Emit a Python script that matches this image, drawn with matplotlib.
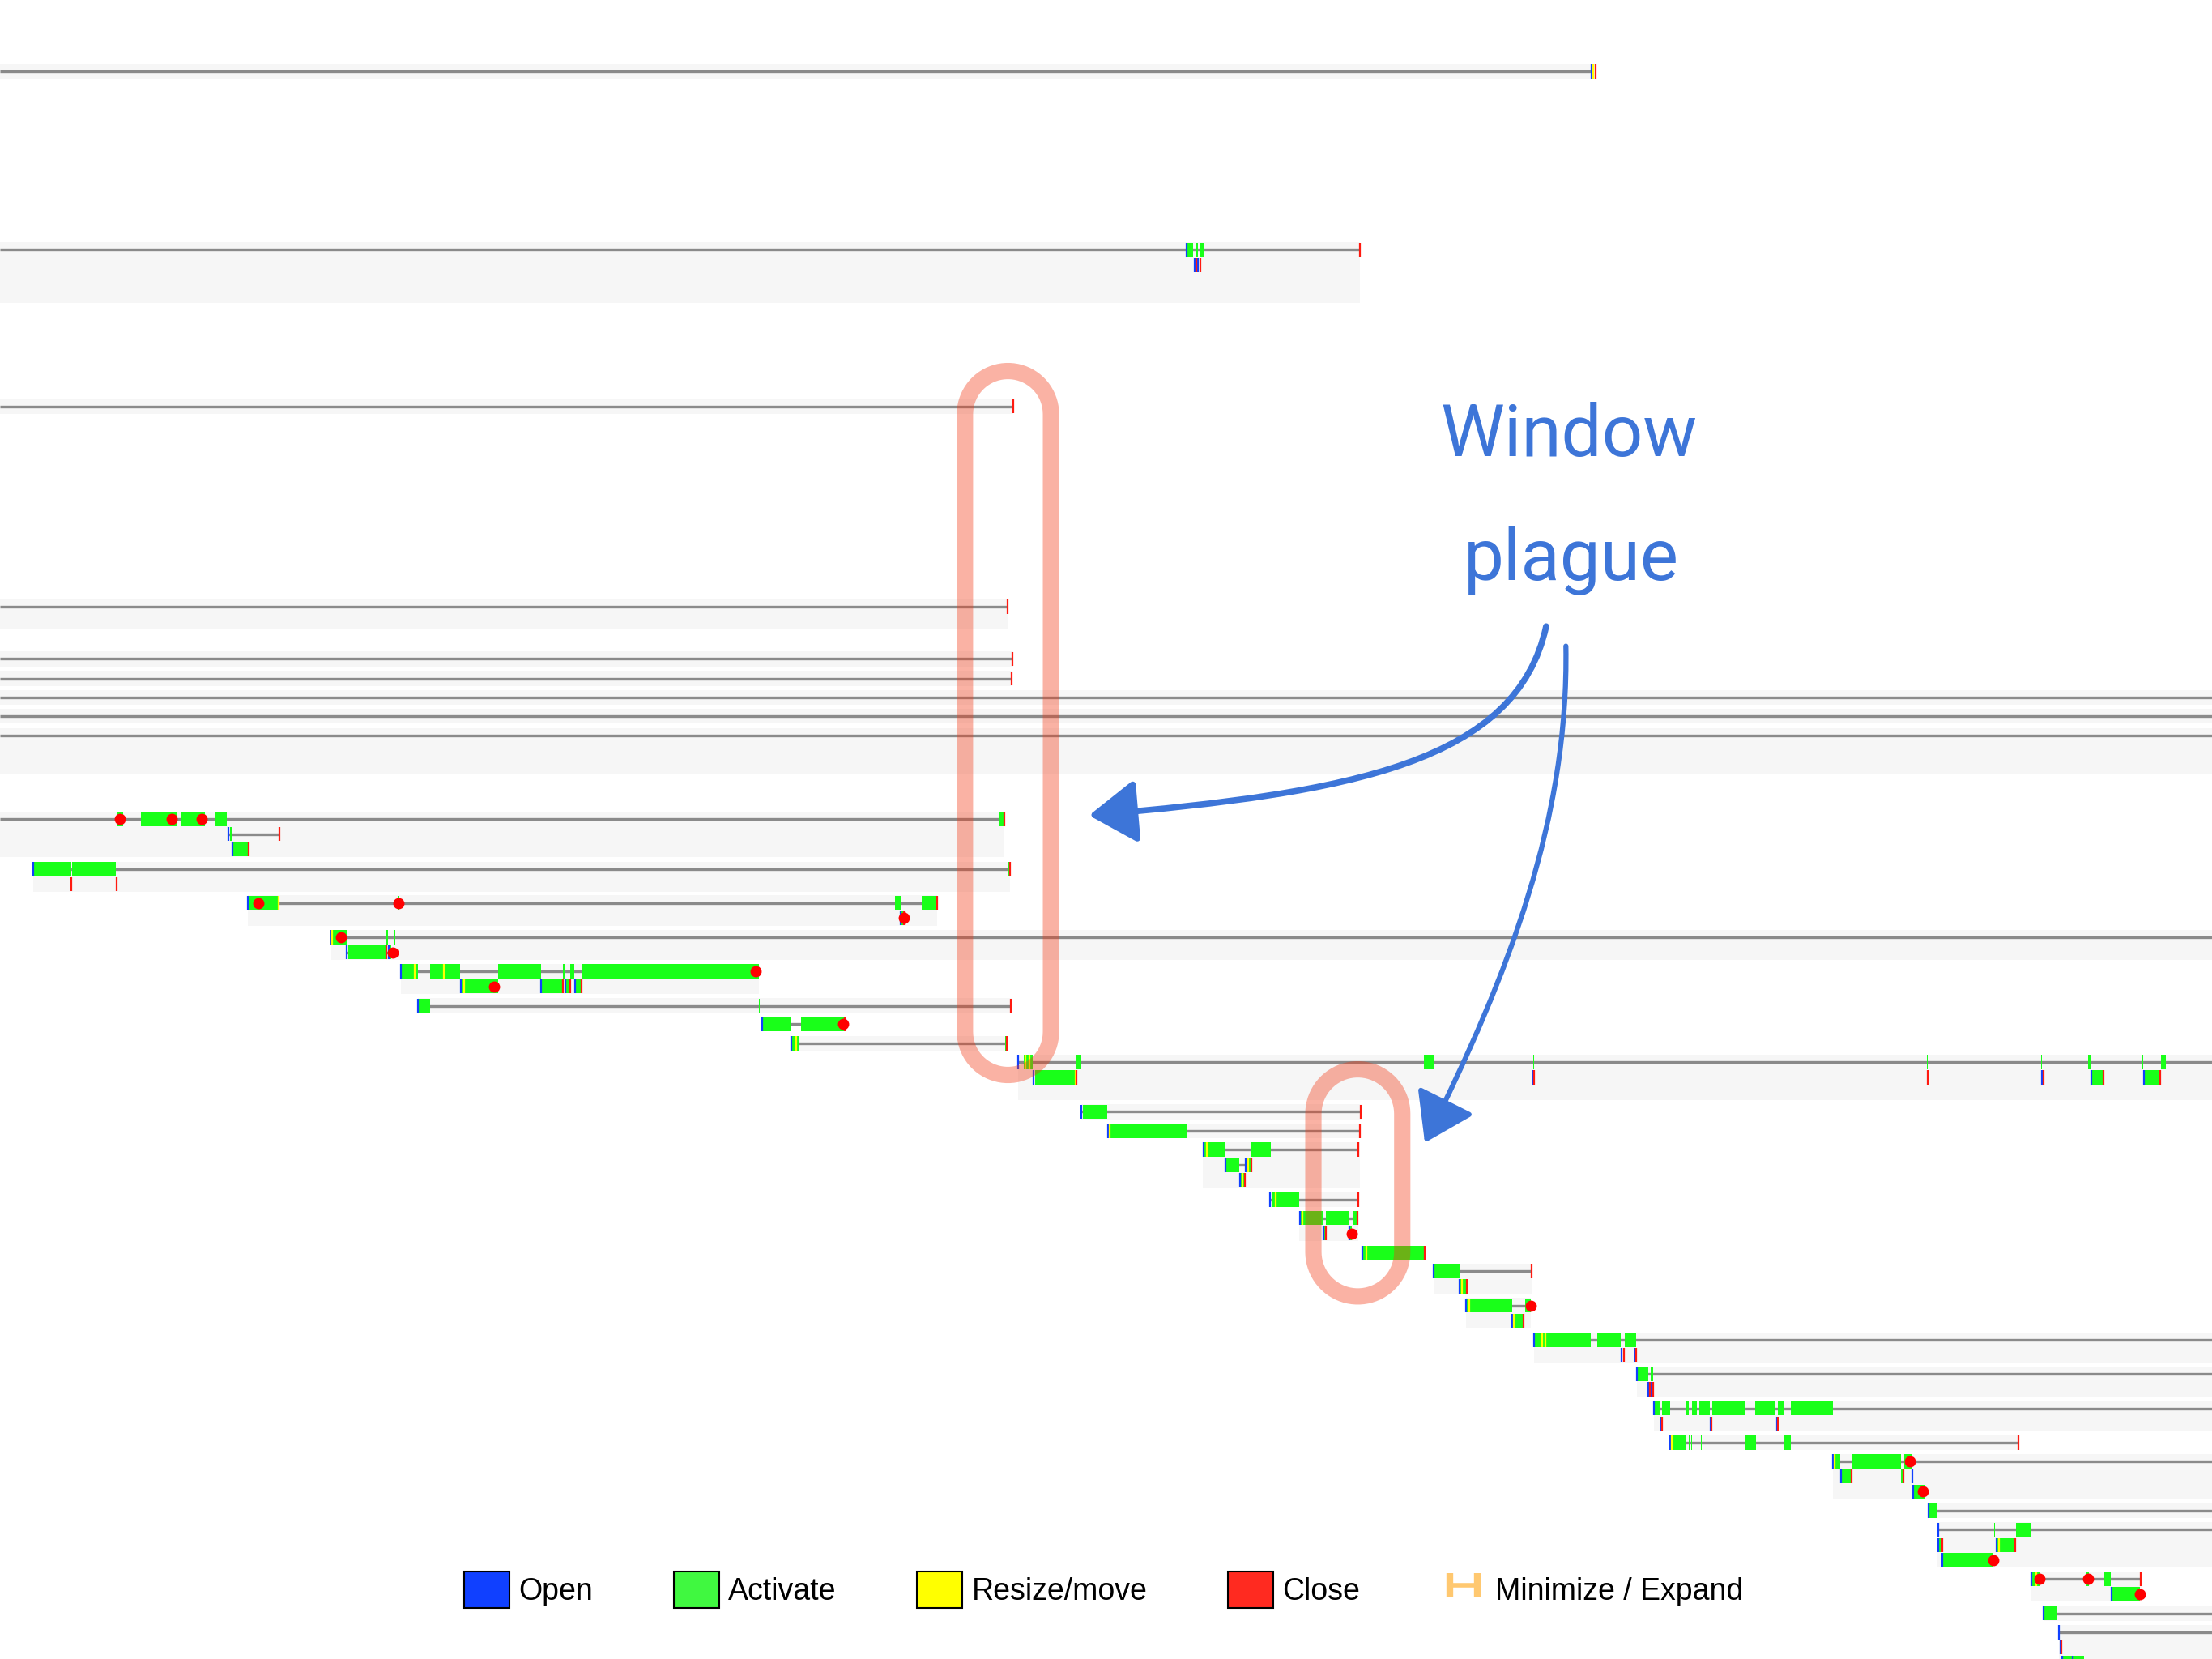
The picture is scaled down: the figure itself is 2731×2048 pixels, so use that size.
import numpy as np
import matplotlib.pyplot as plt
from matplotlib.patches import FancyArrowPatch, Patch, PathPatch
from matplotlib.path import Path
from matplotlib.lines import Line2D

# time axis runs 0..T_MAX, rows run down the page
T_MAX = 1568
LANE = 10.8      # distance between lanes of one group
BAR_H = 10.0     # height of an activation bar / tick

# one group = one application; each lane inside it = one window
# span: window lifetime, act: active periods, open/resize/close: events, dot: minimize/expand
groups = [
    dict(row=50.5, start=0, end=1131, lanes=1, win=[
        dict(span=(0, 1128), open=[1128], resize=[1129.6], close=[1131])]),
    dict(row=177, start=0, end=964, lanes=4, win=[
        dict(span=(0, 964), open=[841], act=[(841.5, 846), (848, 849.3), (851, 853)], close=[964]),
        dict(open=[846.8, 849.2], close=[848, 850.8])]),
    dict(row=288, start=0, end=718, lanes=1, win=[
        dict(span=(0, 718), close=[718])]),
    dict(row=430, start=0, end=714.5, lanes=2, win=[
        dict(span=(0, 714), close=[714])]),
    dict(row=467, start=0, end=718, lanes=1, win=[
        dict(span=(0, 717.5), close=[717.5])]),
    dict(row=481, start=0, end=717.5, lanes=1, win=[
        dict(span=(0, 717), close=[717])]),
    dict(row=494.3, start=0, end=T_MAX, lanes=1, win=[dict(span=(0, T_MAX))]),
    dict(row=507.5, start=0, end=T_MAX, lanes=1, win=[dict(span=(0, T_MAX))]),
    dict(row=521.3, start=0, end=T_MAX, lanes=3, win=[dict(span=(0, T_MAX))]),
    dict(row=580.5, start=0, end=712, lanes=3, win=[
        dict(span=(0, 710), act=[(83, 87), (100, 125), (128, 145), (152, 161), (708.5, 711.5)],
             dot=[85, 122, 143], close=[711.8]),
        dict(span=(162, 198), open=[162], act=[(163, 164.6)], close=[198]),
        dict(span=(165, 176.4), open=[165], act=[(165.5, 176)], close=[176.4])]),
    dict(row=616, start=23.6, end=716, lanes=2, win=[
        dict(span=(23.6, 715.5), open=[23.6], act=[(24, 50.5), (51, 82), (714.5, 715.8)], close=[716]),
        dict(close=[50.7, 82.5])]),
    dict(row=640, start=175.5, end=664.5, lanes=2, win=[
        dict(span=(175.5, 664.3), open=[175.5], resize=[197.5],
             act=[(177, 197.5), (282, 283.3), (634.5, 638.5), (653.5, 664.3)], dot=[183, 282.7], close=[664.3]),
        dict(open=[638.7], act=[(639.2, 640.5)], dot=[640.8], close=[641])]),
    dict(row=664.3, start=234.7, end=T_MAX, lanes=2, win=[
        dict(span=(234.8, T_MAX), open=[234.8], resize=[235.5],
             act=[(235, 245.6), (274, 274.8), (279.6, 280.4)], dot=[241.5]),
        dict(span=(246, 278.5), open=[246, 275.8], act=[(246.6, 273.3), (276.2, 277.6)],
             close=[273.6], dot=[278.5])]),
    dict(row=688.4, start=284, end=537.9, lanes=2, win=[
        dict(span=(284, 537.9), open=[284], resize=[293.7, 314.4],
             act=[(284.7, 296), (305, 326.3), (353, 383.3), (399, 400), (404, 407), (412.6, 537.9)], dot=[535.6]),
        dict(open=[326.6, 383.6, 400.5, 407.7], resize=[329],
             act=[(327, 353), (384, 398.8), (400.8, 404), (408, 412)], close=[398.8, 404.2, 412.2], dot=[350.3])]),
    dict(row=713, start=296.3, end=717.5, lanes=1, win=[
        dict(span=(296.3, 716.8), open=[296.3], act=[(296.6, 304.9), (538, 538.6)], close=[716.8])]),
    dict(row=726, start=None, end=None, lanes=0, win=[
        dict(span=(540.5, 598.6), open=[540.5], act=[(540.8, 560.4), (567.6, 598.6)], dot=[597.7], close=[598.8])]),
    dict(row=739.6, start=560.6, end=713.6, lanes=1, win=[
        dict(span=(560.6, 713), open=[561], resize=[564.5], act=[(561.5, 566.7), (712.6, 713.2)], close=[713.6])]),
    dict(row=752.9, start=721.6, end=T_MAX, lanes=3, win=[
        dict(span=(721.7, T_MAX), open=[721.7], resize=[727, 729.5],
             act=[(725.6, 732), (763.2, 766.5), (965, 965.6), (1009.5, 1016), (1086.8, 1087.4), (1366, 1366.6),
                  (1447, 1447.6), (1480, 1482), (1518.6, 1519.4), (1532, 1535)]),
        dict(open=[732.4, 1087, 1447.5, 1482.2, 1519.8], resize=[762.5],
             act=[(733.5, 762.1), (1482.5, 1491), (1520, 1531)],
             close=[763, 1087.6, 1366.5, 1448.4, 1491, 1531])]),
    dict(row=788.1, start=766.5, end=965, lanes=1, win=[
        dict(span=(766.5, 964.7), open=[766.5], act=[(767.4, 784.9)], close=[964.8])]),
    dict(row=801.5, start=785.1, end=964, lanes=1, win=[
        dict(span=(785.1, 964), open=[785.2], resize=[786.4], act=[(787.2, 841.1)], close=[964])]),
    dict(row=814.9, start=852.6, end=963.8, lanes=3, win=[
        dict(span=(852.6, 963), open=[853], resize=[855.6], act=[(853.5, 868.7), (887.3, 900.7)], close=[963]),
        dict(span=(868.9, 886.9), open=[868.9, 883], resize=[885], act=[(869.1, 878.7), (883.3, 886.5)], close=[886.9]),
        dict(span=(879.2, 882.5), open=[879.2], resize=[880.5], act=[(879.6, 882)], close=[882.5])]),
    dict(row=850.3, start=900.5, end=963.1, lanes=1, win=[
        dict(span=(900.5, 963), open=[900.5], resize=[904.3], act=[(901.2, 921)], close=[963])]),
    dict(row=863.5, start=921, end=962.7, lanes=2, win=[
        dict(span=(921.3, 962), open=[921.3], resize=[923],
             act=[(921.6, 937.4), (940, 956.3), (959.2, 961.6)], close=[962]),
        dict(open=[937.9, 956.3], act=[(938.2, 939.7), (956.6, 958.3)], close=[939.9], dot=[958.5])]),
    dict(row=888, start=None, end=None, lanes=0, win=[
        dict(span=(965.7, 1009.5), open=[965.7], resize=[968.4], act=[(966.2, 1009.5)], close=[1009.7])]),
    dict(row=901, start=1016, end=1086, lanes=2, win=[
        dict(span=(1016, 1085.6), open=[1016], act=[(1017, 1034.7)], close=[1085.8]),
        dict(open=[1034.7], resize=[1036.5], act=[(1035.2, 1039.6)], close=[1039.8])]),
    dict(row=925.4, start=1039, end=1085.4, lanes=2, win=[
        dict(span=(1039, 1085.4), open=[1039.2], resize=[1041.5], act=[(1040, 1071.8), (1081, 1085.4)], dot=[1085.4]),
        dict(open=[1072.2], resize=[1073.3], act=[(1072.8, 1080)], close=[1080])]),
    dict(row=949.7, start=1087.3, end=T_MAX, lanes=2, win=[
        dict(span=(1087.3, T_MAX), open=[1087.3], resize=[1093.3, 1095.5],
             act=[(1088, 1127.6), (1132.2, 1149), (1151.5, 1160)]),
        dict(open=[1149.3, 1159.3], close=[1150.9, 1160])]),
    dict(row=974, start=1160.2, end=T_MAX, lanes=2, win=[
        dict(span=(1160.2, T_MAX), open=[1160.2], act=[(1160.5, 1168.6), (1169.9, 1171.8)]),
        dict(open=[1168.6, 1170.5], close=[1169.8, 1172])]),
    dict(row=998.3, start=1172.4, end=T_MAX, lanes=2, win=[
        dict(span=(1172.4, T_MAX), open=[1172.4],
             act=[(1172.8, 1177), (1178.3, 1183.8), (1194.8, 1197), (1199.3, 1203.1), (1204.7, 1212.1),
                  (1213.8, 1236.7), (1244.4, 1258.6), (1260.2, 1264.1), (1269.6, 1299.3)]),
        dict(open=[1177.4, 1212.6, 1259.4], close=[1178, 1213.2, 1260])]),
    dict(row=1022.6, start=1184.1, end=1430.5, lanes=1, win=[
        dict(span=(1184.1, 1430.5), open=[1184.1], resize=[1185.3],
             act=[(1185, 1194.8), (1197, 1198), (1198.8, 1199.6), (1203.3, 1204.2), (1205.5, 1206.5),
                  (1236.7, 1244.7), (1264.1, 1269.6)], close=[1430.5])]),
    dict(row=1035.8, start=1299.3, end=T_MAX, lanes=3, win=[
        dict(span=(1299.3, T_MAX), open=[1299.4], resize=[1300.5],
             act=[(1299.9, 1304.5), (1312.8, 1347.3), (1349.9, 1355), (1365.1, 1365.6)], dot=[1354.1]),
        dict(open=[1304.8, 1355.6], act=[(1305, 1312.5), (1347.6, 1348.8)], close=[1312.6, 1349.2]),
        dict(span=(1356.4, 1364.8), open=[1356.4], act=[(1356.8, 1364.8)], dot=[1362.8])]),
    dict(row=1071, start=1367, end=T_MAX, lanes=1, win=[
        dict(span=(1367, T_MAX), open=[1367], act=[(1367.4, 1373.4)])]),
    dict(row=1084.4, start=1373.4, end=T_MAX, lanes=3, win=[
        dict(span=(1373.7, T_MAX), open=[1373.7], act=[(1413.6, 1414.1), (1429, 1440)]),
        dict(open=[1374.2, 1415.3], resize=[1417], act=[(1374.6, 1376.2), (1415.6, 1428)], close=[1376.7, 1428.2]),
        dict(span=(1376.7, 1413.1), open=[1376.7], act=[(1377, 1413.1)], dot=[1413.1])]),
    dict(row=1119.2, start=1439.6, end=1517.9, lanes=2, win=[
        dict(span=(1439.6, 1517.6), open=[1440], resize=[1443.4],
             act=[(1440.6, 1446), (1478.7, 1481), (1491.5, 1496)], dot=[1445.7, 1479.9], close=[1517.7]),
        dict(span=(1496.6, 1517), open=[1496.6], act=[(1497, 1517)], dot=[1517])]),
    dict(row=1143.7, start=1448.3, end=T_MAX, lanes=1, win=[
        dict(span=(1448.3, T_MAX), open=[1448.3], act=[(1449, 1458.6)])]),
    dict(row=1157, start=1459.5, end=T_MAX, lanes=3, win=[
        dict(span=(1459.5, T_MAX), open=[1459.5]),
        dict(open=[1460.4], close=[1461]),
        dict(span=(1461.5, T_MAX), open=[1461.5, 1469], act=[(1461.8, 1477.3)])]),
]

legend_labels = ['Open', 'Activate', 'Resize/move', 'Close', 'Minimize / Expand']

C_OPEN = '#1040ff'
C_ACT = '#19ff19'
C_RESIZE = '#ffff00'
C_CLOSE = '#ff1a10'
C_LINE = '#8a8a8a'
C_BAND = '#f6f6f6'
C_MIN = '#ffc870'
C_NOTE = '#3d75d8'
C_RING = (0.95, 0.21, 0.07, 0.38)


def stadium(x0, x1, y0, y1):
    # closed outline with fully rounded top and bottom
    r = (x1 - x0) / 2
    cx = x0 + r
    t = np.linspace(np.pi, 0, 40)
    top = np.column_stack([cx + r * np.cos(t), y0 + r - r * np.sin(t)])
    bot = np.column_stack([cx - r * np.cos(t), y1 - r + r * np.sin(t)])
    pts = np.vstack([top, bot, top[:1]])
    return Path(pts, closed=True)


fig = plt.figure(figsize=(27.31, 20.48), dpi=100)
ax = fig.add_axes([0, 0, 1, 1])
ax.set_xlim(0, T_MAX)
ax.set_ylim(1176, 0)
ax.axis('off')

for g in groups:
    y0 = g['row']
    if g['lanes']:
        h = (g['lanes'] - 1) * LANE + BAR_H + 0.6
        ax.barh(y0 + (g['lanes'] - 1) * LANE / 2, g['end'] - g['start'], left=g['start'],
                height=h, color=C_BAND, zorder=0)
    for i, w in enumerate(g['win']):
        y = y0 + i * LANE
        if 'span' in w:
            ax.plot(w['span'], [y, y], color=C_LINE, lw=2.4, solid_capstyle='butt', zorder=1)
        if 'act' in w:
            ax.broken_barh([(a, b - a) for a, b in w['act']], (y - BAR_H / 2, BAR_H),
                           facecolors=C_ACT, zorder=2)
        for key, col in (('open', C_OPEN), ('resize', C_RESIZE), ('close', C_CLOSE)):
            if key in w:
                ax.vlines(w[key], y - BAR_H / 2, y + BAR_H / 2, colors=col, lw=1.6, zorder=3)
        if 'dot' in w:
            ax.plot(w['dot'], [y] * len(w['dot']), 'o', color='red', ms=10, mew=0, zorder=4)

# highlighted region of abandoned windows
for x0, x1, y_a, y_b in [(684, 745, 263, 762), (931, 994, 758, 919)]:
    ax.add_patch(PathPatch(stadium(x0, x1, y_a, y_b), fc='none', ec=C_RING, lw=14.5, zorder=5))

# hand-drawn note and arrows
note_font = ['Roboto', 'DejaVu Sans']
ax.text(1112, 323, 'Window', ha='center', va='baseline', fontsize=64, color=C_NOTE,
        family=note_font, zorder=6)
ax.text(1114, 411, 'plague', ha='center', va='baseline', fontsize=64, color=C_NOTE,
        family=note_font, zorder=6)

arrow1 = Path([(1096, 444), (1075, 540), (960, 562), (772, 578)],
              [Path.MOVETO, Path.CURVE4, Path.CURVE4, Path.CURVE4])
arrow2 = Path([(1110, 458), (1112, 580), (1070, 690), (1010, 810)],
              [Path.MOVETO, Path.CURVE4, Path.CURVE4, Path.CURVE4])
for p, lw in [(arrow1, 5.5), (arrow2, 4.5)]:
    ax.add_patch(FancyArrowPatch(path=p, arrowstyle='-|>,head_length=0.36,head_width=0.24',
                                 mutation_scale=100, color=C_NOTE, lw=lw, zorder=6))

handles = [
    Patch(facecolor=C_OPEN, edgecolor='black', lw=1.5),
    Patch(facecolor='#40f840', edgecolor='black', lw=1.5),
    Patch(facecolor=C_RESIZE, edgecolor='black', lw=1.5),
    Patch(facecolor='#ff2a20', edgecolor='black', lw=1.5),
    Line2D([], [], color=C_MIN, lw=4, marker='|', ms=22, mew=6),
]
ax.legend(handles, legend_labels, ncol=5, loc='center', bbox_to_anchor=(0.499, 0.0417),
          frameon=False, handlelength=1.5, handleheight=1.5, handletextpad=0.3,
          columnspacing=2.65, numpoints=2, prop={'family': 'Liberation Sans', 'size': 27})

fig.savefig('out.png', dpi=100, facecolor='white')
